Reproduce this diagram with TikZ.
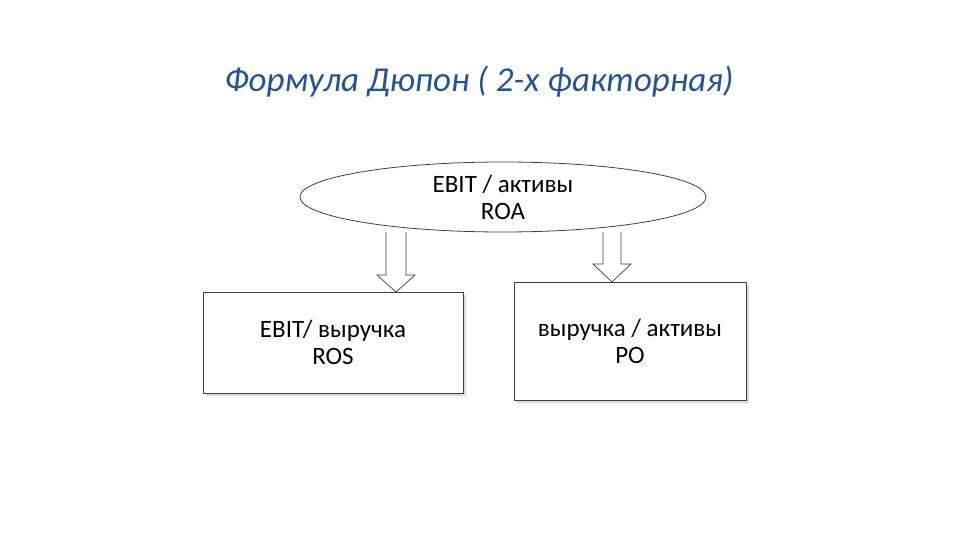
\documentclass[tikz,border=0pt]{standalone}
\usepackage{fontspec}
\setmainfont{Carlito}
\usetikzlibrary{shadows,shapes.geometric}
\begin{document}
\begin{tikzpicture}[x=1pt,y=-1pt,
  txt/.style={draw=black!75,line width=0.8pt,fill=white,align=center,font=\fontsize{25}{27}\selectfont},
  box/.style={txt,drop shadow={shadow xshift=3pt,shadow yshift=-3pt,fill=black!15,opacity=1}},
  fat/.style={draw=black!75,line width=0.7pt,fill=white}]
\useasboundingbox (0,0) rectangle (960,540);
\node[font=\itshape\fontsize{35}{40}\selectfont,text={rgb,255:red,36;green,84;blue,150}] (t) at (479,82) {Формула Дюпон ( 2-х факторная)};
\node[txt,ellipse,minimum width=406pt,minimum height=70pt,inner sep=0pt] (roa) at (503,197) {EBIT / активы\\ROA};
\node[box,minimum width=260pt,minimum height=101pt] (ros) at (333,342.5) {EBIT/ выручка\\ROS};
\node[box,minimum width=232pt,minimum height=118pt] (po) at (630,341) {выручка / активы\\PO};
\draw[fat] (386,232) -- (386,275) -- (377,275) -- (396,292) -- (415,275) -- (406,275) -- (406,232);
\draw[fat] (603,232) -- (603,264) -- (593,264) -- (612,282) -- (631,264) -- (621,264) -- (621,232);
\end{tikzpicture}
\end{document}
